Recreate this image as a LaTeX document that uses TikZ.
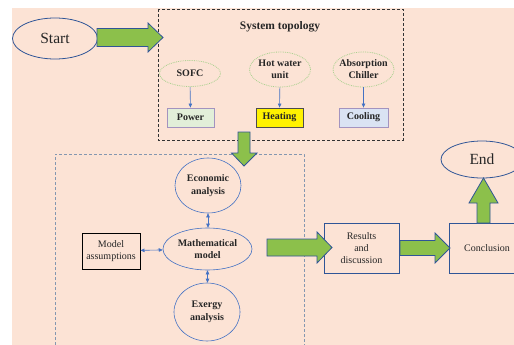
\documentclass[tikz,border=0pt]{standalone}
\usepackage{fontspec}
\setmainfont{Liberation Serif}
\usetikzlibrary{shapes.geometric,arrows.meta}
\definecolor{peach}{HTML}{FCE3D5}
\definecolor{arrgreen}{HTML}{8CC04B}
\definecolor{darkblue}{HTML}{2F5597}
\definecolor{ellblue}{HTML}{4472C4}
\definecolor{dotgreen}{HTML}{A9D18E}
\definecolor{lavender}{HTML}{A393BF}
\definecolor{powerfill}{HTML}{E2EFD9}
\definecolor{coolfill}{HTML}{DAE3F3}
\definecolor{heatfill}{HTML}{FFF200}
\definecolor{boxgray}{HTML}{8497B0}

\begin{document}
\begin{tikzpicture}[x=1pt, y=-1pt,
    every node/.style={inner sep=0pt, text=black!85, font=\fontsize{10}{12.5}\selectfont},
    terminal/.style={ellipse, draw=darkblue, line width=0.8pt, font=\fontsize{15.5}{18}\selectfont},
    unit/.style={ellipse, draw=dotgreen, densely dotted, line width=0.8pt, minimum width=61pt,
        inner xsep=-3pt, align=center, font=\fontsize{10}{12}\selectfont\bfseries},
    load/.style={rectangle, draw=lavender, line width=0.8pt, minimum width=47pt, minimum height=19pt,
        font=\fontsize{10}{12}\selectfont\bfseries},
    study/.style={ellipse, draw=ellblue, line width=0.6pt, align=center,
        font=\fontsize{10}{12.5}\selectfont\bfseries},
    stage/.style={rectangle, draw=darkblue, line width=0.6pt, minimum width=75pt, minimum height=50pt,
        align=center, font=\fontsize{10}{12}\selectfont},
    flow/.style={draw=ellblue, line width=0.6pt, -{Triangle[length=4pt,width=3.5pt]}},
    both/.style={draw=ellblue, line width=0.6pt, {Triangle[length=4pt,width=3.5pt]}-{Triangle[length=4pt,width=3.5pt]}},
    bigarrow/.style={fill=arrgreen, draw=darkblue, line width=0.8pt, line join=miter}]
    \useasboundingbox (0,0) rectangle (514,345);
    \clip (0,0) rectangle (514,345);
    \fill[white] (0,0) rectangle (514,345);
    \fill[peach] (12,8) rectangle (514,345);
    \draw [black!80, line width=0.9pt, dash pattern=on 3pt off 2pt] (158,9) rectangle (403,140);
    \draw [boxgray, line width=0.9pt, dash pattern=on 3pt off 2pt] (55,360) -- (55,154) -- (304,154) -- (304,360);
    \node (start) [terminal, minimum width=85pt, minimum height=41pt] at (55, 38.5) {Start};
    \node (title) [font=\fontsize{11.5}{14}\selectfont\bfseries] at (280, 27) {System topology};
    \node (sofc) [unit, minimum height=26pt] at (190, 73.5) {SOFC};
    \node (hot) [unit, minimum height=35pt] at (280, 69.5) {Hot water\\unit};
    \node (chiller) [unit, minimum height=35pt] at (363.5, 69.5) {Absorption\\Chiller};
    \node (power) [load, fill=powerfill] at (190.5, 117.5) {Power};
    \node (heating) [load, fill=heatfill, draw=black!70] at (279.5, 117.5) {Heating};
    \node (cooling) [load, fill=coolfill, minimum width=49pt] at (363.5, 117.5) {Cooling};
    \node (econ) [study, minimum width=66pt, minimum height=55pt] at (208, 185.5) {Economic\\analysis};
    \node (math) [study, minimum width=89pt, minimum height=42pt] at (207.5, 249) {Mathematical\\model};
    \node (exergy) [study, minimum width=66pt, minimum height=58pt] at (207, 312) {Exergy\\analysis};
    \node (assume) [rectangle, draw=black, line width=1pt, minimum width=58pt, minimum height=36pt,
        align=center] at (111, 251) {Model\\assumptions};
    \node (results) [stage] at (361.5, 248) {Results\\and\\discussion};
    \node (concl) [stage, minimum width=76pt] at (487, 248) {Conclusion};
    \node (finish) [terminal, minimum width=82pt, minimum height=37pt] at (482, 159.5) {End};
    \draw [flow] (sofc) to (power);
    \draw [flow] (hot) to (heating);
    \draw [flow] (chiller) to (cooling);
    \draw [both] (econ) to (econ.south |- math.north);
    \draw [both] (math) to (math.south |- exergy.north);
    \draw [both] (assume) to (math);
    \draw [bigarrow] (97,28.5) -- (148,28.5) -- (148,23) -- (163,37.5) -- (148,52) -- (148,46.5) -- (97,46.5) -- cycle;
    \draw [bigarrow] (238,132) -- (250,132) -- (250,153) -- (257,153) -- (244,166) -- (231.5,153) -- (238,153) -- cycle;
    \draw [bigarrow] (267,239) -- (317,239) -- (317,232) -- (332,247.5) -- (317,263) -- (317,256) -- (267,256) -- cycle;
    \draw [bigarrow] (400,240.5) -- (435,240.5) -- (435,233) -- (450,248) -- (435,263) -- (435,255.5) -- (400,255.5) -- cycle;
    \draw [bigarrow] (477,223) -- (477,203) -- (469,203) -- (483.5,178) -- (498,203) -- (490,203) -- (490,223) -- cycle;
\end{tikzpicture}
\end{document}
